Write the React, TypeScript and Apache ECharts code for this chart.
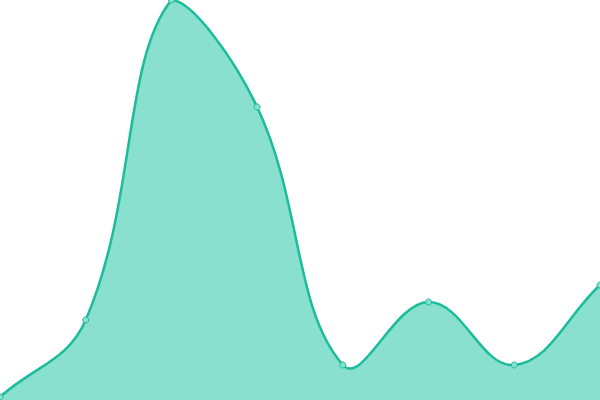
import { useEffect, useRef } from 'react';
import * as echarts from 'echarts';

const categories = ['1', '2', '3', '4', '5', '6', '7', '8'];
const values = [3, 80, 400, 293, 35, 98, 35, 115];

const LINE_COLOR = '#1ABC9C';
const AREA_COLOR = '#8AE0CE';
const TENSION = 0.4;

// spline control points (tension + capped to the plot area)
const buildCurve = (pts: number[][], box: { x: number; y: number; width: number; height: number }) => {
    const cap = (p: number[]) => [
        Math.min(Math.max(p[0], box.x), box.x + box.width),
        Math.min(Math.max(p[1], box.y), box.y + box.height)
    ];
    const cps: { before: number[]; after: number[] }[] = pts.map((cur, i) => {
        const prev = pts[i - 1] || cur;
        const next = pts[i + 1] || cur;
        const d01 = Math.hypot(cur[0] - prev[0], cur[1] - prev[1]);
        const d12 = Math.hypot(next[0] - cur[0], next[1] - cur[1]);
        let s01 = d01 / (d01 + d12);
        let s12 = d12 / (d01 + d12);
        if (isNaN(s01)) s01 = 0;
        if (isNaN(s12)) s12 = 0;
        const fa = TENSION * s01;
        const fb = TENSION * s12;
        return {
            before: cap([cur[0] - fa * (next[0] - prev[0]), cur[1] - fa * (next[1] - prev[1])]),
            after: cap([cur[0] + fb * (next[0] - prev[0]), cur[1] + fb * (next[1] - prev[1])])
        };
    });
    let d = `M${pts[0][0]} ${pts[0][1]}`;
    for (let i = 1; i < pts.length; i++) {
        const a = cps[i - 1].after;
        const b = cps[i].before;
        d += ` C${a[0]} ${a[1]} ${b[0]} ${b[1]} ${pts[i][0]} ${pts[i][1]}`;
    }
    return d;
};

const App = () => {
    const chartRef = useRef<HTMLDivElement>(null);

    useEffect(() => {
        if (!chartRef.current) return;
        const chart = echarts.init(chartRef.current, undefined, { renderer: 'svg' });

        const renderItem = (params: any, api: any) => {
            const pt = api.coord([api.value(0), api.value(1)]);
            const dot = {
                type: 'circle',
                shape: { cx: pt[0], cy: pt[1], r: 3 },
                style: { fill: AREA_COLOR, stroke: LINE_COLOR, lineWidth: 1 },
                z2: 20
            };
            if (params.dataIndex !== 0) return dot;

            const box = params.coordSys;
            const pts = values.map((v, i) => api.coord([i, v]));
            const curve = buildCurve(pts, box);
            const baseY = api.coord([0, 0])[1];
            const last = pts[pts.length - 1];
            const area = `${curve} L${last[0]} ${baseY} L${pts[0][0]} ${baseY} Z`;
            return {
                type: 'group',
                children: [
                    { type: 'path', shape: { pathData: area }, style: { fill: AREA_COLOR }, z2: 1 },
                    {
                        type: 'path',
                        shape: { pathData: curve },
                        style: { fill: 'none', stroke: LINE_COLOR, lineWidth: 2.5 },
                        z2: 10
                    },
                    dot
                ]
            };
        };

        chart.setOption({
            animation: false,
            grid: { left: 0, right: 0, top: 0, bottom: 0 },
            xAxis: {
                type: 'category',
                data: categories,
                boundaryGap: false,
                show: false
            },
            yAxis: {
                type: 'value',
                min: 0,
                max: 400,
                show: false
            },
            series: [
                {
                    type: 'custom',
                    renderItem,
                    clip: false,
                    encode: { x: 0, y: 1 },
                    data: values.map((v, i) => [i, v])
                }
            ]
        });
        return () => chart.dispose();
    }, []);

    return <div ref={chartRef} style={{ width: '600px', height: '400px', position: 'fixed', left: 0, top: 0 }} />;
};

export default App;
